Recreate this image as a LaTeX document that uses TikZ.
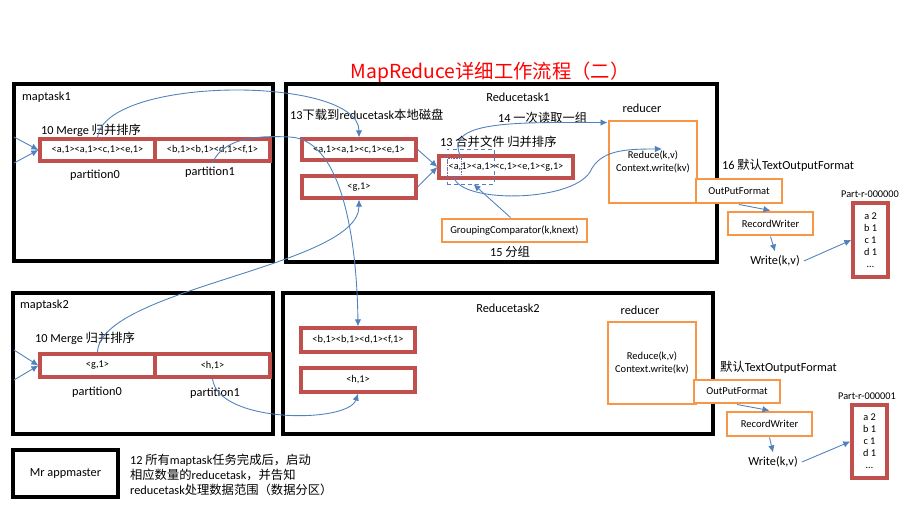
\documentclass[tikz,border=0pt]{standalone}
\usepackage{fontspec}
\setmainfont{Carlito}
\newfontfamily\cjkfont{Noto Sans CJK SC}
\usepackage{xcolor}
\usetikzlibrary{arrows.meta,calc}

\definecolor{boxred}{HTML}{C0504D}
\definecolor{boxorange}{HTML}{F79646}
\definecolor{flowblue}{HTML}{4F81BD}
\definecolor{grppurple}{HTML}{8064A2}
\newcommand{\zh}[1]{{\cjkfont #1}}

\tikzset{
  task/.style={draw=black, line width=3pt},
  sz/.style 2 args={minimum width=#1*0.03cm, minimum height=#2*0.03cm},
  redbox/.style={draw=boxred, line width=2.8pt, fill=white, inner sep=0pt, font=\fontsize{8.8}{10}\selectfont},
  orbox/.style={draw=boxorange, line width=2.5pt, fill=white, inner sep=0pt, align=center, font=\fontsize{9}{11}\selectfont},
  lbl/.style={font=\fontsize{10.5}{13}\selectfont},
  small/.style={font=\fontsize{8.8}{10}\selectfont},
  flow/.style={draw=flowblue, line width=0.75pt, -{Latex[length=6pt,width=5.5pt]}},
}

\begin{document}
\begin{tikzpicture}[x=0.03cm, y=-0.03cm]
            \useasboundingbox (0,0) rectangle (906,508);

            \node[text=red, font=\cjkfont\fontsize{16.5}{18}\selectfont] (title) at (490,72) {MapReduce详细工作流程（二）};

            % maptask1
            \draw[task] (14,84) rectangle (273,261);
            \node[lbl, anchor=west] (mt1) at (18,97) {maptask1};
            \node[lbl, anchor=west] (mg1) at (37,130) {10 Merge \zh{归并排序}};
            \node[redbox, sz={115}{22}] (m1p0) at (97.5,150) {<a,1><a,1><c,1><e,1>};
            \node[redbox, sz={115}{22}] (m1p1) at (212.5,150) {<b,1><b,1><d,1><f,1>};
            \node[lbl] (pt10) at (95,175) {partition0};
            \node[lbl] (pt11) at (210,172) {partition1};
            \coordinate (in1a) at (14,137);
            \coordinate (in1b) at (14,163);

            % Reducetask1
            \draw[task] (286,84) rectangle (717,262);
            \node[lbl] (rt1) at (518,97) {Reducetask1};
            \node[lbl, anchor=west] (dl1) at (286,115) {13\zh{下载到}reducetask\zh{本地磁盘}};
            \node[redbox, sz={114}{21}] (r1a) at (359,149.5) {<a,1><a,1><c,1><e,1>};
            \node[redbox, sz={114}{22}] (r1b) at (359,187) {<g,1>};
            \node[lbl, anchor=west] (mf1) at (436,142) {13 \zh{合并文件 归并排序}};
            \node[redbox, sz={134}{22}] (merged) at (506,167) {<a,1><a,1><c,1><e,1><g,1>};
            \node[draw=flowblue, dashed, thin, sz={47}{35}] (grp) at (470.5,166.5) {};
            \node[draw=grppurple, densely dotted, thin, sz={14}{19}] (sel) at (454,167.5) {};
            \node[lbl, anchor=west] (rd1) at (494,118) {14 \zh{一次读取一组}};
            \node[lbl] (rc1) at (642,108) {reducer};
            \node[orbox, sz={88}{82}] (red1) at (653,162) {Reduce(k,v)\\Context.write(kv)};
            \node[orbox, sz={145}{23}] (gc) at (514.5,230.5) {GroupingComparator(k,knext)};
            \node[lbl] (fz1) at (510,252) {15 \zh{分组}};

            % output 1
            \node[lbl, anchor=west] (tf1) at (718,165) {16 \zh{默认}TextOutputFormat};
            \node[orbox, sz={86}{24}] (of1) at (739,191) {OutPutFormat};
            \node[orbox, sz={85}{23}] (rw1) at (770.5,223.5) {RecordWriter};
            \node[lbl] (wr1) at (775,261) {Write(k,v)};
            \node[small] (pn1) at (870,194) {Part-r-000000};
            \node[redbox, sz={35}{74}, align=center, font=\fontsize{8.8}{10.2}\selectfont] (pr1) at (870.5,240) {a 2\\b 1\\c 1\\d 1\\\ldots};

            % maptask2
            \draw[task] (13,293) rectangle (273,434);
            \node[lbl, anchor=west] (mt2) at (16,305) {maptask2};
            \node[lbl, anchor=west] (mg2) at (31,338) {10 Merge \zh{归并排序}};
            \node[redbox, sz={115}{23}] (m2p0) at (97.5,365.5) {<g,1>};
            \node[redbox, sz={115}{23}] (m2p1) at (212.5,365.5) {<h,1>};
            \node[lbl] (pt20) at (97,392) {partition0};
            \node[lbl] (pt21) at (215,393) {partition1};
            \coordinate (in2a) at (14,350);
            \coordinate (in2b) at (14,380);

            % Reducetask2
            \draw[task] (283,293) rectangle (713,434);
            \node[lbl] (rt2) at (508,308) {Reducetask2};
            \node[redbox, sz={114}{24}] (r2a) at (358,340) {<b,1><b,1><d,1><f,1>};
            \node[redbox, sz={114}{24}] (r2b) at (358,380) {<h,1>};
            \node[lbl] (rc2) at (640,310) {reducer};
            \node[orbox, sz={88}{82}] (red2) at (652,363) {Reduce(k,v)\\Context.write(kv)};

            % output 2
            \node[lbl, anchor=west] (tf2) at (716,367) {\zh{默认}TextOutputFormat};
            \node[orbox, sz={86}{23}] (of2) at (737,391.5) {OutPutFormat};
            \node[orbox, sz={85}{24}] (rw2) at (769.5,424) {RecordWriter};
            \node[lbl] (wr2) at (773,462) {Write(k,v)};
            \node[small] (pn2) at (867,396) {Part-r-000001};
            \node[redbox, sz={35}{73}, align=center, font=\fontsize{8.8}{10.2}\selectfont] (pr2) at (869.5,441.5) {a 2\\b 1\\c 1\\d 1\\\ldots};

            % appmaster
            \node[task, sz={105}{47}, lbl] (am) at (65.5,473.5) {Mr appmaster};
            \node[lbl, anchor=west, align=left] (note) at (126,475) {12 \zh{所有}maptask\zh{任务完成后，启动}\\\zh{相应数量的}reducetask\zh{，并告知}\\reducetask\zh{处理数据范围（数据分区）}};

            % connectors
            \draw[flow] (in1a) -- (m1p0.west);
            \draw[flow] (in1b) -- (m1p0.west);
            \draw[flow] (in2a) -- (m2p0.west);
            \draw[flow] (in2b) -- (m2p0.west);
            \draw[flow] (m1p0.north) .. controls +(8,-62) and +(0,-62) .. (r1a.north);
            \draw[flow] (m1p1.south) .. controls (225,135) and (265,136) .. (290,137) .. controls (345,140) and (357,250) .. (r2a.north);
            \draw[flow] (m2p0.north) .. controls +(2,-64) and +(0,67) .. (r1b.south);
            \draw[flow] (m2p1.south) .. controls +(5,45) and +(-10,30) .. (r2b.south);
            \draw[flow] (r1a.east) -- (merged.west);
            \draw[flow] (r1b.east) -- (merged.west);
            \draw[flow] (sel.north east) .. controls +(-20,-38) and +(-90,0) .. ($(red1.north west)+(0,3)$);
            \draw[flow] (sel.south) .. controls (460,203) and (570,203) .. (590,172) .. controls (600,150) and (625,149) .. ($(red1.center)+(9,-13)$);
            \draw[flow] ($(gc.north)+(-4,0)$) -- ($(grp.south)+(3,0)$);
            \draw[flow] (of1.south) -- (rw1.north);
            \draw[flow] (rw1.south) -- (wr1.north);
            \draw[flow] (wr1.east) -- (pr1.west);
            \draw[flow] (of2.south) -- (rw2.north);
            \draw[flow] (rw2.south) -- (wr2.north);
            \draw[flow] (wr2.east) -- (pr2.west);
        \end{tikzpicture}
\end{document}
